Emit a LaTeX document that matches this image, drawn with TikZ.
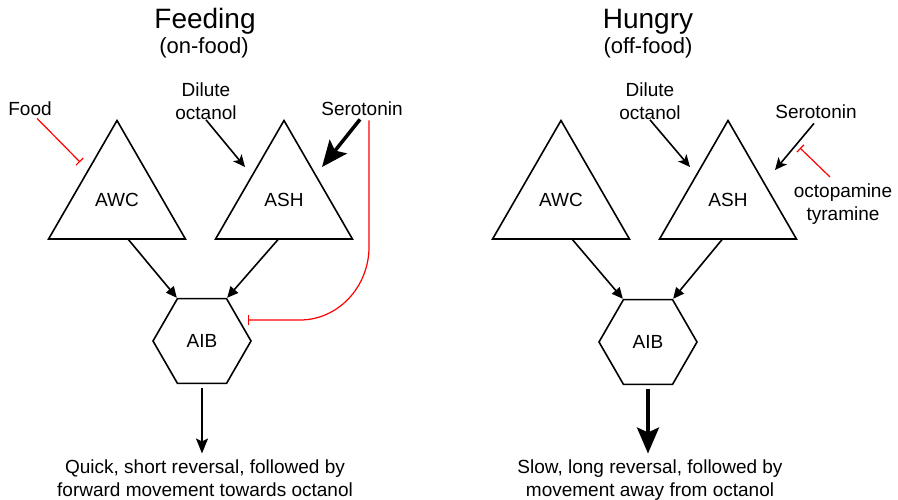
\documentclass[tikz,border=0pt]{standalone}
\usepackage{fontspec}
\setmainfont{Liberation Sans}
\usetikzlibrary{shapes.geometric,arrows.meta,calc}

\begin{document}
\begin{tikzpicture}[x=1pt,y=-1pt,
    neuron/.style={draw,regular polygon,regular polygon sides=3,minimum size=158pt,
      inner sep=0pt,outer sep=0pt,line width=1.6pt,font=\fontsize{19}{22}\selectfont},
    hub/.style={draw,regular polygon,regular polygon sides=6,minimum size=98pt,
      inner sep=0pt,outer sep=0pt,line width=1.6pt,font=\fontsize{19}{22}\selectfont},
    lbl/.style={align=center,inner sep=0pt,font=\fontsize{19}{23}\selectfont},
    syn/.style={line width=1.6pt,-{Triangle[length=11pt,width=10pt]},shorten >=1pt},
    cue/.style={line width=1.6pt,-{Stealth[length=12pt,width=11pt,inset=3pt]}},
    strong/.style={line width=3.5pt,-{Stealth[length=26pt,width=22pt,inset=5pt]}},
    block/.style={red,line width=1.2pt,-{Bar[width=10pt,line width=1.2pt]}}]
  \useasboundingbox (0,0) rectangle (898,500);

  % Feeding (on-food)
  \node[lbl,anchor=base,font=\fontsize{28}{30}\selectfont] (titleL) at (205,29) {Feeding};
  \node[lbl,anchor=base,font=\fontsize{22}{24}\selectfont] (stateL) at (204,54) {(on-food)};
  \node[neuron] (awcL) at (117,199.5) {AWC};
  \node[neuron] (ashL) at (284,199.5) {ASH};
  \node[hub] (aibL) at (202,341) {AIB};
  \node[lbl,anchor=base] (food) at (30,116) {Food};
  \node[lbl,anchor=north] (dilL) at (206,82.5) {Dilute\\octanol};
  \node[lbl,anchor=base] (serL) at (362,116) {Serotonin};
  \node[lbl,anchor=north] (resL) at (205,459.5) {Quick, short reversal, followed by\\forward movement towards octanol};
  \coordinate (foodend) at (80,162);
  \coordinate (dilLend) at (245,167);
  \coordinate (serLend) at (322,167);
  \coordinate (aibLbar) at (248,320);

  \draw[block] ($(food.south)+(7,2)$) -- (foodend);
  \draw[cue] (dilL.south) -- (dilLend);
  \draw[strong] ($(serL.south)+(-2,3)$) -- (serLend);
  \draw[block] ($(serL.south)+(7,4)$) -- (369,247)
       .. controls (369,287) and (338,320) .. (300,320) -- (aibLbar);
  \draw[syn] ($(awcL.corner 2)!0.58!(awcL.corner 3)$) -- (aibL.corner 2);
  \draw[syn] ($(ashL.corner 2)!0.46!(ashL.corner 3)$) -- (aibL.corner 1);
  \draw[line width=1.6pt,-{Stealth[length=15pt,width=12pt,inset=3pt]},shorten <=5pt,shorten >=6pt]
       (aibL.south) -- (aibL.south |- resL.north);

  % Hungry (off-food)
  \node[lbl,anchor=base,font=\fontsize{28}{30}\selectfont] (titleR) at (648,29) {Hungry};
  \node[lbl,anchor=base,font=\fontsize{22}{24}\selectfont] (stateR) at (648,54) {(off-food)};
  \node[neuron] (awcR) at (561,199.5) {AWC};
  \node[neuron] (ashR) at (728,199.5) {ASH};
  \node[hub] (aibR) at (648,342) {AIB};
  \node[lbl,anchor=north] (dilR) at (650,82.5) {Dilute\\octanol};
  \node[lbl,anchor=base] (serR) at (816,119) {Serotonin};
  \node[lbl,anchor=north] (octR) at (843,184) {octopamine\\tyramine};
  \node[lbl,anchor=north] (resR) at (650,459.5) {Slow, long reversal, followed by\\movement away from octanol};
  \coordinate (dilRend) at (690,167);
  \coordinate (serRend) at (775,170);
  \coordinate (octRend) at (800,148);

  \draw[cue] (dilR.south) -- (dilRend);
  \draw[cue] ($(serR.south)+(-2,4)$) -- (serRend);
  \draw[block] ($(octR.north)+(-13,-7)$) -- (octRend);
  \draw[syn] ($(awcR.corner 2)!0.58!(awcR.corner 3)$) -- (aibR.corner 2);
  \draw[syn] ($(ashR.corner 2)!0.46!(ashR.corner 3)$) -- (aibR.corner 1);
  \draw[strong,shorten <=5pt,shorten >=6pt] (aibR.south) -- (aibR.south |- resR.north);
\end{tikzpicture}
\end{document}
